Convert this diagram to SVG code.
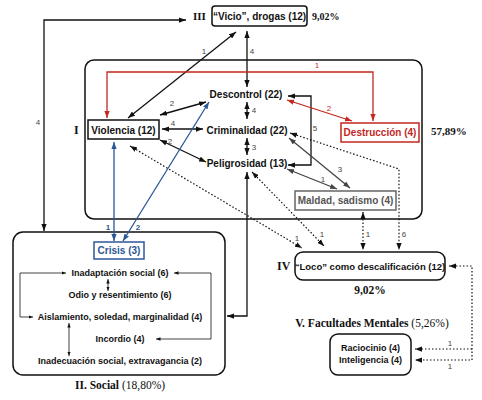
<svg xmlns="http://www.w3.org/2000/svg" width="482" height="400" viewBox="0 0 482 400">
<defs>
<style>
.node{fill:#fff;stroke:#111;stroke-width:1.5}
.nt{font-family:"Liberation Sans",Arial,sans-serif;font-weight:bold;font-size:10px;fill:#111;text-anchor:middle}
.st{font-family:"Liberation Sans",Arial,sans-serif;font-weight:bold;font-size:9px;fill:#111;text-anchor:middle}
.sr{font-family:"Liberation Serif","Times New Roman",serif;font-weight:bold;fill:#111}
.num{font-family:"Liberation Sans",Arial,sans-serif;font-size:8px;fill:#444;text-anchor:middle}
.c{fill:none;stroke:#111;stroke-width:1.3;marker-start:url(#ak);marker-end:url(#ak)}
.red{stroke:#c4281f;marker-start:url(#ar);marker-end:url(#ar)}
.blue{stroke:#2b5797;marker-start:url(#ab);marker-end:url(#ab)}
.gray{stroke:#444;marker-start:url(#ag);marker-end:url(#ag)}
.dot{stroke-dasharray:1.5 2;stroke-width:1.2}
.thin{fill:none;stroke:#111;stroke-width:0.8;marker-start:url(#as);marker-end:url(#as)}
</style>
<marker id="ak" viewBox="0 0 8 6" refX="8" refY="3" markerWidth="7" markerHeight="5.5" markerUnits="userSpaceOnUse" orient="auto-start-reverse"><path d="M0,0 L8,3 L0,6 z" fill="#111"/></marker>
<marker id="ar" viewBox="0 0 8 6" refX="8" refY="3" markerWidth="7" markerHeight="5.5" markerUnits="userSpaceOnUse" orient="auto-start-reverse"><path d="M0,0 L8,3 L0,6 z" fill="#c4281f"/></marker>
<marker id="ab" viewBox="0 0 8 6" refX="8" refY="3" markerWidth="7" markerHeight="5.5" markerUnits="userSpaceOnUse" orient="auto-start-reverse"><path d="M0,0 L8,3 L0,6 z" fill="#2b5797"/></marker>
<marker id="ag" viewBox="0 0 8 6" refX="8" refY="3" markerWidth="7" markerHeight="5.5" markerUnits="userSpaceOnUse" orient="auto-start-reverse"><path d="M0,0 L8,3 L0,6 z" fill="#444"/></marker>
<marker id="as" viewBox="0 0 8 6" refX="8" refY="3" markerWidth="4.5" markerHeight="3.5" markerUnits="userSpaceOnUse" orient="auto-start-reverse"><path d="M0,0 L8,3 L0,6 z" fill="#111"/></marker>
</defs>
<rect width="482" height="400" fill="#fff"/>

<g id="group-I">
<rect class="node" x="85" y="60" width="337" height="159" rx="9"/>
<text class="sr" x="74" y="134" font-size="12">I</text>
<text class="sr" x="431" y="135" font-size="11">57,89%</text>
</g>
<g id="group-II">
<rect class="node" x="13" y="232" width="212" height="143" rx="10"/>
<text class="sr" x="120" y="389" font-size="11.5" text-anchor="middle">II. Social <tspan font-weight="normal">(18,80%)</tspan></text>
</g>

<g id="connectors">
<path class="c" d="M186,20 H44 V231"/>
<path class="c" d="M236,32 L128,118"/>
<path class="c" d="M247,31 V87"/>
<path class="c red" d="M107,118 V72 H373 V121"/>
<path class="c" d="M206,102 L160,115"/>
<path class="c" d="M203,129 L162,129"/>
<path class="c" d="M206,162 L160,140"/>
<path class="c" d="M247,102 V119"/>
<path class="c" d="M247,138 V155"/>
<path class="c" d="M288,96 H311 V165 H288"/>
<path class="c red" d="M287,100 L352,121"/>
<path class="c gray" d="M289,138 L350,188"/>
<path class="c gray" d="M287,169 L337,189"/>
<path class="c dot" d="M290,133 L399,169 V250"/>
<path class="c dot" d="M363,212 V250"/>
<path class="c dot" d="M130,146 L302,248"/>
<path class="c dot" d="M252,172 L324,246"/>
<path class="c blue" d="M114,142 V241"/>
<path class="c blue" d="M123,241 L209,102"/>
<path class="c" d="M247,172 V316 H227"/>
<path class="c dot" d="M449,266 H472 V360 H415"/>
<path class="c dot" d="M472,349 H415" style="marker-start:none"/>
<path class="thin" d="M66,273 H20 V317 H33"/>
<path class="thin" d="M174,273 H211 V339 H156"/>
<path class="thin" d="M108,279 V291"/>
<path class="thin" d="M69,323 V356"/>
<text class="num" x="38" y="125">4</text>
<text class="num" x="204" y="54">1</text>
<text class="num" x="252" y="54">4</text>
<text class="num" x="317" y="68" fill="#c4281f" style="fill:#c4281f">1</text>
<text class="num" x="172" y="106">2</text>
<text class="num" x="173" y="126">4</text>
<text class="num" x="170" y="144">2</text>
<text class="num" x="254" y="113">4</text>
<text class="num" x="254" y="150">3</text>
<text class="num" x="315" y="131">5</text>
<text class="num" x="329" y="111" style="fill:#c4281f">2</text>
<text class="num" x="340" y="172">3</text>
<text class="num" x="323" y="182">1</text>
<text class="num" x="404" y="237">6</text>
<text class="num" x="368" y="237">1</text>
<text class="num" x="297" y="241">1</text>
<text class="num" x="322" y="237">1</text>
<text class="num" x="108" y="230" style="fill:#2b5797;font-weight:bold">1</text>
<text class="num" x="138" y="230" style="fill:#2b5797;font-weight:bold">2</text>
<text class="num" x="450" y="346">1</text>
<text class="num" x="450" y="369">1</text>
</g>

<g id="node-vicio">
<rect class="node" x="212" y="6" width="95" height="20" rx="3"/>
<text class="nt" x="259.5" y="19.5">“Vicio”, drogas (12)</text>
<text class="sr" x="193" y="20" font-size="11">III</text>
<text class="sr" x="312" y="20" font-size="10">9,02%</text>
</g>
<g id="node-descontrol"><text class="nt" x="246" y="97.5">Descontrol (22)</text></g>
<g id="node-criminalidad"><text class="nt" x="247" y="133.5">Criminalidad (22)</text></g>
<g id="node-peligrosidad"><text class="nt" x="247" y="166.5">Peligrosidad (13)</text></g>
<g id="node-violencia">
<rect class="node" x="88" y="120" width="71" height="19"/>
<text class="nt" x="123.5" y="133.5">Violencia (12)</text>
</g>
<g id="node-destruccion">
<rect class="node" x="341" y="123" width="78" height="19" style="stroke:#c4281f"/>
<text class="nt" x="380" y="136" style="fill:#c4281f">Destrucción (4)</text>
</g>
<g id="node-maldad">
<rect class="node" x="295" y="191" width="101" height="19" style="stroke:#666"/>
<text class="nt" x="345.5" y="204" style="fill:#555">Maldad, sadismo (4)</text>
</g>
<g id="node-crisis">
<rect class="node" x="94" y="242" width="50" height="17" style="stroke:#2b5797"/>
<text class="nt" x="119" y="254" style="fill:#2b5797">Crisis (3)</text>
</g>
<g id="node-inadaptacion"><text class="st" x="120" y="276">Inadaptación social (6)</text></g>
<g id="node-odio"><text class="st" x="120" y="298">Odio y resentimiento (6)</text></g>
<g id="node-aislamiento"><text class="st" x="120" y="320">Aislamiento, soledad, marginalidad (4)</text></g>
<g id="node-incordio"><text class="st" x="120" y="342">Incordio (4)</text></g>
<g id="node-inadecuacion"><text class="st" x="120" y="364">Inadecuación social, extravagancia (2)</text></g>
<g id="node-loco">
<rect class="node" x="295" y="252" width="150" height="28" rx="8"/>
<text class="nt" x="370" y="269.5" font-size="9.5" style="font-size:9.5px">“Loco” como descalificación (12)</text>
<text class="sr" x="277" y="270" font-size="12">IV</text>
<text class="sr" x="370" y="294" font-size="11.5" text-anchor="middle">9,02%</text>
</g>
<g id="node-facultades">
<text class="sr" x="372" y="327" font-size="11.5" text-anchor="middle">V. Facultades Mentales <tspan font-weight="normal">(5,26%)</tspan></text>
<rect class="node" x="330" y="334" width="81" height="41" rx="8"/>
<text class="st" x="370.5" y="351">Raciocinio (4)</text>
<text class="st" x="370.5" y="363">Inteligencia (4)</text>
</g>
</svg>
